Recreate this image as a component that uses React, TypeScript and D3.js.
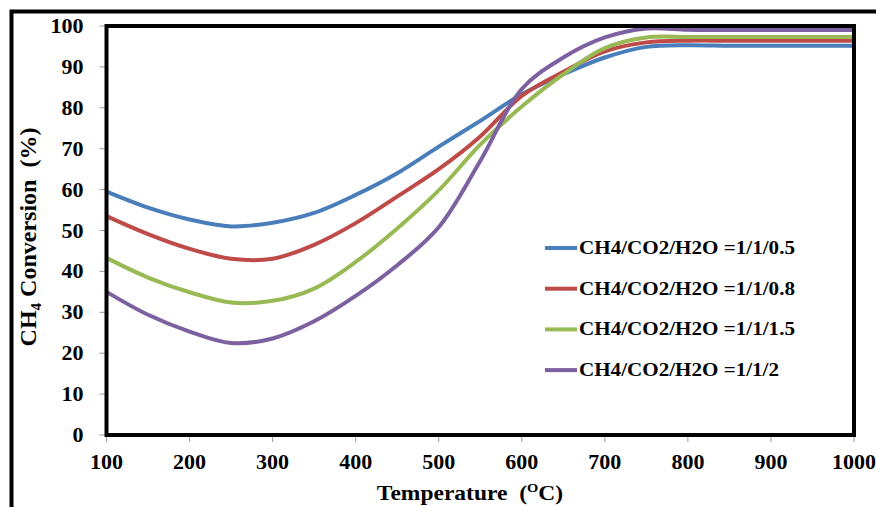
import React from "react";
import * as d3 from "d3";

const temps = [100, 150, 200, 250, 300, 350, 400, 450, 500, 550, 600, 650, 700, 750, 800, 850, 900, 950, 1000];
const blue = [59.5, 55.6, 52.7, 51, 51.9, 54.3, 58.7, 64, 70.5, 76.8, 83.3, 88.2, 92.3, 94.9, 95.3, 95.2, 95.2, 95.2, 95.2];
const red = [53.5, 49.1, 45.5, 43.1, 43.1, 46.5, 51.8, 58.3, 65, 73, 82.9, 88.8, 93.8, 96, 96.4, 96.4, 96.4, 96.4, 96.4];
const green = [43.3, 38.5, 34.9, 32.4, 32.8, 35.8, 42.3, 50.5, 59.8, 71, 80.3, 88.2, 94.6, 97.2, 97.3, 97.3, 97.3, 97.3, 97.3];
const purple = [35, 29.4, 25.3, 22.5, 23.6, 27.8, 34, 41.5, 50.8, 67, 84.6, 92.3, 97.2, 99.4, 99.1, 99, 99, 99, 99];

const seriesNames = [
  "CH4/CO2/H2O =1/1/0.5",
  "CH4/CO2/H2O =1/1/0.8",
  "CH4/CO2/H2O =1/1/1.5",
  "CH4/CO2/H2O =1/1/2",
];
const seriesValues = [blue, red, green, purple];
const colors = ["#4A7EBB", "#BE4B48", "#98B954", "#7D60A0"];

const xTicks = [100, 200, 300, 400, 500, 600, 700, 800, 900, 1000];
const yTicks = [0, 10, 20, 30, 40, 50, 60, 70, 80, 90, 100];

export default function App() {
  const W = 876;
  const H = 507;
  const left = 106.5, right = 854, top = 26, bottom = 435;
  const x = d3.scaleLinear().domain([100, 1000]).range([left, right]);
  const y = d3.scaleLinear().domain([0, 100]).range([bottom, top]);
  const line = d3
    .line<number>()
    .x((_, i) => x(temps[i]))
    .y((d) => y(d))
    .curve(d3.curveCatmullRom.alpha(0.5));

  const font = "Liberation Serif, Times New Roman, serif";

  return (
    <svg
      width={W}
      height={H}
      style={{ position: "absolute", left: 0, top: 0, background: "#fff" }}
      fontFamily={font}
    >
      <rect x={0} y={0} width={W} height={H} fill="#fff" />
      {/* outer frame */}
      <rect x={11.5} y={11.5} width={W + 20} height={H + 20} fill="none" stroke="#000" strokeWidth={4} />

      {/* tick marks */}
      {yTicks.map((t) => (
        <line key={"yt" + t} x1={left - 7} x2={left} y1={y(t)} y2={y(t)} stroke="#999" strokeWidth={1} />
      ))}
      {xTicks.map((t) => (
        <line key={"xt" + t} x1={x(t)} x2={x(t)} y1={bottom} y2={bottom + 7} stroke="#999" strokeWidth={1} />
      ))}

      {/* series */}
      {seriesValues.map((vals, i) => (
        <path key={"s" + i} d={line(vals) || ""} fill="none" stroke={colors[i]} strokeWidth={4} strokeLinejoin="round" />
      ))}

      {/* plot frame */}
      <rect x={left} y={top} width={right - left} height={bottom - top} fill="none" stroke="#000" strokeWidth={4} />

      {/* y tick labels */}
      {yTicks.map((t) => (
        <text
          key={"yl" + t}
          transform={`translate(${left - 23},${y(t) + 7}) scale(1.1,1)`}
          textAnchor="end"
          fontSize={20}
          fontWeight="bold"
        >
          {t}
        </text>
      ))}
      {/* x tick labels */}
      {xTicks.map((t) => (
        <text
          key={"xl" + t}
          transform={`translate(${x(t)},${bottom + 34}) scale(1.1,1)`}
          textAnchor="middle"
          fontSize={20}
          fontWeight="bold"
        >
          {t}
        </text>
      ))}

      {/* x title */}
      <text
        transform="translate(470,500) scale(1.12,1)"
        textAnchor="middle"
        fontSize={21}
        fontWeight="bold"
        xmlSpace="preserve"
      >
        {"Temperature  ("}
        <tspan fontSize={13} dy={-8}>O</tspan>
        <tspan dy={8}>C)</tspan>
      </text>

      {/* y title */}
      <text
        transform={`translate(36,237) rotate(-90)`}
        textAnchor="middle"
        fontSize={24}
        fontWeight="bold"
        xmlSpace="preserve"
      >
        CH<tspan fontSize={15} dy={5}>4</tspan>
        <tspan dy={-5}>{" Conversion  (%)"}</tspan>
      </text>

      {/* legend */}
      {seriesNames.map((name, i) => {
        const ly = 248 + i * 40.7;
        return (
          <g key={"lg" + i}>
            <line x1={545} x2={577} y1={ly} y2={ly} stroke={colors[i]} strokeWidth={4} />
            <text
              x={579}
              y={ly + 6}
              fontSize={18}
              fontWeight="bold"
              textLength={i === 3 ? 200 : 216}
              lengthAdjust="spacingAndGlyphs"
            >
              {name}
            </text>
          </g>
        );
      })}
    </svg>
  );
}
